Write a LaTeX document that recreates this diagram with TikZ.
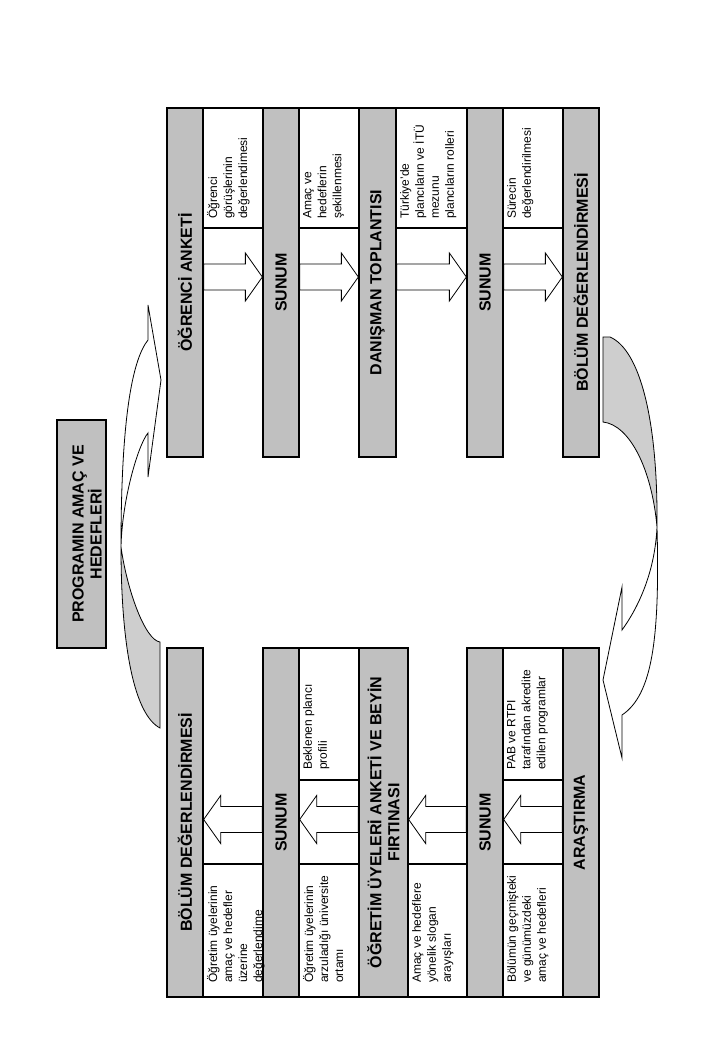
\documentclass[tikz,border=0pt]{standalone}
\usepackage{fontspec}
\setmainfont{Liberation Sans}
\usetikzlibrary{calc}
\definecolor{bandgray}{RGB}{192,192,192}
\definecolor{backgray}{RGB}{206,206,206}
\pgfdeclarelayer{bg}
\pgfsetlayers{bg,main}

\begin{document}
\begin{tikzpicture}[x=1pt, y=-1pt,
  band/.style={draw, fill=bandgray, line width=1.3pt, rotate=90, minimum width=349pt, minimum height=36pt, inner sep=0pt, align=center, font=\bfseries\fontsize{16}{18}\selectfont},
  cell/.style={draw, fill=white, line width=1.3pt},
  celltext/.style={rotate=90, anchor=north west, align=left, inner xsep=8pt, inner ysep=4pt, font=\fontsize{12}{15}\selectfont, execute at begin node={\rule{0pt}{14pt}}},
  fat/.style={draw, fill=white, line width=0.8pt, to path={let \p1=(\tikztostart), \p2=(\tikztotarget), \n1={sign(\x2-\x1)} in (\x1,\y1+13pt) -- (\x2-17pt*\n1,\y1+13pt) -- (\x2-17pt*\n1,\y1+24pt) -- (\x2,\y1) -- (\x2-17pt*\n1,\y1-24pt) -- (\x2-17pt*\n1,\y1-13pt) -- (\x1,\y1-13pt) -- cycle}},
  ribbon/.style={draw, line width=0.8pt}]
\begin{pgfonlayer}{bg}
\fill[white] (0,0) rectangle (720,1040);
\end{pgfonlayer}
\useasboundingbox (0,0) rectangle (720,1040);

% title
\node[draw, fill=bandgray, line width=1.3pt, minimum width=49pt, minimum height=228pt, inner sep=0pt] (title) at (81.5,534) {};
\node[rotate=90, align=center, font=\bfseries\fontsize{16}{18}\selectfont] (titletxt) at ([xshift=5.5pt]title.center) {PROGRAMIN AMAÇ VE\\HEDEFLERİ};

% cells, upper row
\draw[cell] (203,108) rectangle (263,228);
\draw[cell] (299,108) rectangle (359,228);
\draw[cell] (396,108) rectangle (467,228);
\draw[cell] (503,108) rectangle (563,228);
% cells, lower row
\draw[cell] (299,648) rectangle (359,780);
\draw[cell] (503,648) rectangle (563,780);
\draw[cell] (203,864) rectangle (263,997);
\draw[cell] (299,864) rectangle (359,997);
\draw[cell] (408,864) rectangle (467,997);
\draw[cell] (503,864) rectangle (563,997);

% bands
\node[band] (u1) at (185,282.5) {ÖĞRENCİ ANKETİ};
\node[band] (u2) at (281,282.5) {SUNUM};
\node[band, minimum height=37pt] (u3) at (377.5,282.5) {DANIŞMAN TOPLANTISI};
\node[band] (u4) at (485,282.5) {SUNUM};
\node[band] (u5) at (581,282.5) {BÖLÜM DEĞERLENDİRMESİ};
\node[band] (l1) at (185,822.5) {BÖLÜM DEĞERLENDİRMESİ};
\node[band] (l2) at (281,822.5) {SUNUM};
\node[band, minimum height=49pt] (l3) at (383.5,822.5) {ÖĞRETİM ÜYELERİ ANKETİ VE BEYİN\\FIRTINASI};
\node[band] (l4) at (485,822.5) {SUNUM};
\node[band] (l5) at (581,822.5) {ARAŞTIRMA};

% cell texts
\node[celltext] (c1) at (203,227) {Öğrenci\\görüşlerinin\\değerlendimesi};
\node[celltext] (c2) at (299,227) {Amaç ve\\hedeflerin\\şekillenmesi};
\node[celltext] (c3) at (396,227) {Türkiye'de\\plancıların ve İTÜ\\mezunu\\plancıların rolleri};
\node[celltext] (c4) at (503,227) {Sürecin\\değerlendirilmesi};
\node[celltext] (c5) at (203,991) {Öğretim üyelerinin\\amaç ve hedefler\\üzerine\\değerlendime};
\node[celltext] (c6) at (299,778) {Beklenen plancı\\profili};
\node[celltext] (c7) at (299,991) {Öğretim üyelerinin\\arzuladığı üniversite\\ortamı};
\node[celltext] (c8) at (408,991) {Amaç ve hedeflere\\yönelik slogan\\arayışları};
\node[celltext] (c9) at (503,778) {PAB ve RTPI\\tarafından akredite\\edilen programlar};
\node[celltext] (c10) at (503,991) {Bölümün geçmişteki\\ve günümüzdeki\\amaç ve hedefleri};

% block arrows
\begin{pgfonlayer}{bg}
\draw[fat] (u1.south |- 0,277) to (u2.north |- 0,277);
\draw[fat] (u2.south |- 0,277) to (u3.north |- 0,277);
\draw[fat] (u3.south |- 0,277) to (u4.north |- 0,277);
\draw[fat] (u4.south |- 0,277) to (u5.north |- 0,277);
\draw[fat] (l2.north |- 0,819.5) to (l1.south |- 0,819.5);
\draw[fat] (l3.north |- 0,819.5) to (l2.south |- 0,819.5);
\draw[fat] (l4.north |- 0,819.5) to (l3.south |- 0,819.5);
\draw[fat] (l5.north |- 0,819.5) to (l4.south |- 0,819.5);
\end{pgfonlayer}

% curved arrows
\draw[ribbon, fill=white] (121,547) .. controls (121,420) and (132,360) .. (148,340) -- (148,305) -- (161,380) -- (148,477) -- (148,433) .. controls (138,445) and (122,500) .. (121,547) -- cycle;
\draw[ribbon, fill=backgray] (121,547) .. controls (121,650) and (135,715) .. (160,728) -- (160,642) .. controls (145,640) and (127,590) .. (121,547) -- cycle;
\draw[ribbon, fill=backgray] (603,337) -- (603,422) .. controls (630,425) and (652,470) .. (657,527) .. controls (658,420) and (640,350) .. (610,337) -- cycle;
\draw[ribbon, fill=white] (657,527) .. controls (660,640) and (652,695) .. (622,715) -- (622,758) -- (603,680) -- (622,587) -- (622,630) .. controls (640,605) and (655,570) .. (657,527) -- cycle;
\end{tikzpicture}
\end{document}
